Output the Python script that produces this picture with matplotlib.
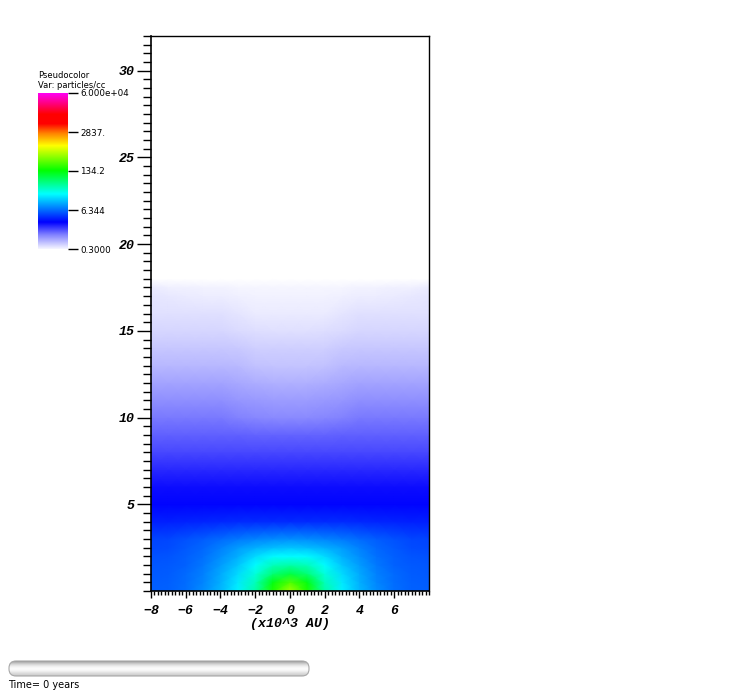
import numpy as np
import matplotlib
matplotlib.use('Agg')
import matplotlib.pyplot as plt
from matplotlib.colors import LinearSegmentedColormap, Normalize
from matplotlib.patches import FancyBboxPatch
from matplotlib.font_manager import FontProperties

# density field, log10(particles/cc) (x >= 0 half, mirrored)
x_pos = [0, 1, 2, 3, 4, 5, 6, 7, 8]
z_pos = [0, 0.5, 1, 1.5, 2, 2.5, 3, 4, 5, 6, 7, 8, 9, 10, 11, 12, 13, 14, 15,
         16, 17, 17.5, 18, 32]
log_rho = [
    [2.66, 2.23, 1.60, 1.28, 1.07, 0.91, 0.80, 0.75, 0.74],
    [2.39, 2.07, 1.54, 1.25, 1.04, 0.88, 0.79, 0.74, 0.72],
    [1.92, 1.76, 1.44, 1.20, 1.01, 0.86, 0.78, 0.72, 0.71],
    [1.60, 1.54, 1.33, 1.12, 0.96, 0.83, 0.75, 0.71, 0.70],
    [1.33, 1.31, 1.20, 1.04, 0.91, 0.80, 0.73, 0.69, 0.68],
    [1.12, 1.09, 1.04, 0.96, 0.86, 0.77, 0.71, 0.66, 0.65],
    [0.91, 0.90, 0.87, 0.83, 0.78, 0.72, 0.68, 0.64, 0.63],
    [0.54, 0.54, 0.54, 0.54, 0.53, 0.52, 0.51, 0.50, 0.50],
    [0.39, 0.39, 0.39, 0.39, 0.39, 0.39, 0.39, 0.39, 0.39],
    [0.34, 0.34, 0.34, 0.34, 0.34, 0.34, 0.34, 0.34, 0.34],
    [0.25, 0.25, 0.25, 0.25, 0.25, 0.25, 0.25, 0.25, 0.25],
    [0.14, 0.14, 0.14, 0.14, 0.14, 0.14, 0.14, 0.14, 0.14],
    [0.05, 0.05, 0.05, 0.06, 0.06, 0.06, 0.06, 0.06, 0.06],
    [-0.08, -0.08, -0.07, -0.05, -0.02, -0.02, -0.02, -0.02, -0.02],
    [-0.16, -0.16, -0.15, -0.13, -0.10, -0.10, -0.10, -0.10, -0.10],
    [-0.24, -0.24, -0.23, -0.21, -0.19, -0.19, -0.19, -0.19, -0.19],
    [-0.32, -0.32, -0.31, -0.28, -0.27, -0.27, -0.27, -0.27, -0.27],
    [-0.36, -0.36, -0.36, -0.34, -0.33, -0.33, -0.33, -0.33, -0.33],
    [-0.43, -0.43, -0.42, -0.41, -0.39, -0.39, -0.39, -0.39, -0.39],
    [-0.48, -0.48, -0.48, -0.46, -0.44, -0.44, -0.44, -0.44, -0.43],
    [-0.51, -0.51, -0.51, -0.50, -0.49, -0.49, -0.48, -0.47, -0.46],
    [-0.52, -0.52, -0.52, -0.52, -0.51, -0.51, -0.50, -0.50, -0.48],
    [-0.60, -0.60, -0.60, -0.60, -0.60, -0.60, -0.60, -0.60, -0.60],
    [-0.60, -0.60, -0.60, -0.60, -0.60, -0.60, -0.60, -0.60, -0.60],
]
rho_min = 0.3
rho_max = 6.0e4
legend_labels = ['0.3000', '6.344', '134.2', '2837.', '6.000e+04']

# colour table
stops = [(0.0, (0.96, 0.96, 1.0)), (0.09, (0.5, 0.5, 1.0)), (0.17, (0.0, 0.0, 1.0)),
         (0.26, (0.0, 0.5, 1.0)), (0.35, (0.0, 1.0, 1.0)), (0.5, (0.0, 1.0, 0.0)),
         (0.66, (1.0, 1.0, 0.0)), (0.74, (1.0, 0.5, 0.0)), (0.80, (1.0, 0.0, 0.0)),
         (0.86, (1.0, 0.0, 0.0)), (1.0, (1.0, 0.0, 1.0))]
cmap = LinearSegmentedColormap.from_list('visit', stops, N=512)
cmap.set_under('white')
norm = Normalize(np.log10(rho_min), np.log10(rho_max))

xs = np.array(x_pos, dtype=float)
full_x = np.concatenate([-xs[::-1], xs[1:]])
vals = np.array(log_rho)
full_vals = np.concatenate([vals[:, ::-1], vals[:, 1:]], axis=1)
X, Z = np.meshgrid(full_x, np.array(z_pos))

fig = plt.figure(figsize=(7.56, 6.96), dpi=100)
W, H = 756.0, 696.0

ax = fig.add_axes([151 / W, 1 - 591 / H, 278 / W, 555 / H])
ax.pcolormesh(X, Z, full_vals, cmap=cmap, norm=norm, shading='gouraud')
ax.set_xlim(-8, 8)
ax.set_ylim(0, 32)
ax.set_aspect('auto')
for s in ['top', 'right']:
    ax.spines[s].set_linewidth(1.0)
for s in ['left', 'bottom']:
    ax.spines[s].set_linewidth(1.2)

tick_font = FontProperties(family='Liberation Mono', weight='bold', style='italic', size=9.5)
ax.set_xticks([-8, -6, -4, -2, 0, 2, 4, 6])
ax.set_xticks(np.arange(-8, 8.01, 0.2), minor=True)
ax.set_yticks([5, 10, 15, 20, 25, 30])
ax.set_yticks(np.arange(0, 32.01, 0.5), minor=True)
ax.tick_params(axis='y', which='major', length=10, width=1, pad=1.5)
ax.tick_params(axis='y', which='minor', length=6, width=1)
ax.tick_params(axis='x', which='major', length=5, width=1, pad=5)
ax.tick_params(axis='x', which='minor', length=3, width=1)
ax.set_xticklabels(['−8', '−6', '−4', '−2', '0', '2', '4', '6'])
for lab in ax.get_xticklabels() + ax.get_yticklabels():
    lab.set_fontproperties(tick_font)
ax.set_xlabel('(x10^3 AU)', fontproperties=tick_font, labelpad=0.5)

# legend
fig.text(38 / W, 1 - 75 / H, 'Pseudocolor', fontsize=6, va='center')
fig.text(38 / W, 1 - 85 / H, 'Var: particles/cc', fontsize=6, va='center')
cax = fig.add_axes([38 / W, 1 - 249 / H, 30 / W, 156 / H])
grad = np.linspace(0, 1, 256).reshape(-1, 1)
cax.imshow(grad, cmap=cmap, vmin=0, vmax=1, aspect='auto', origin='lower',
           extent=[0, 1, 0, 1])
for s in cax.spines.values():
    s.set_visible(False)
cax.set_xticks([])
cax.yaxis.tick_right()
cax.set_yticks(np.linspace(0, 1, len(legend_labels)))
cax.set_yticklabels(legend_labels, fontsize=6.3)
cax.tick_params(axis='y', length=7, width=1, pad=2)
cax.set_ylim(0, 1)

# time slider (axes in pixel units)
sax = fig.add_axes([8 / W, 1 - 677 / H, 302 / W, 17 / H])
sax.set_axis_off()
sax.set_xlim(0, 302)
sax.set_ylim(0, 17)
shade = np.array([0.55, 0.66, 0.76, 0.84, 0.9, 0.95, 0.98, 0.99, 0.97, 0.93,
                  0.88, 0.84, 0.8, 0.74]).reshape(-1, 1)
im = sax.imshow(np.repeat(shade, 2, axis=1), cmap='gray', vmin=0, vmax=1,
                aspect='auto', extent=[0, 302, 0, 17], interpolation='bicubic')
box = FancyBboxPatch((1, 1), 300, 15, boxstyle='round,pad=0,rounding_size=7',
                     facecolor='none', edgecolor='#a8a8a8', linewidth=0.8)
sax.add_patch(box)
im.set_clip_path(box)
fig.text(8 / W, 1 - 685 / H, 'Time= 0 years', fontsize=7, va='center')

fig.savefig('out.png', dpi=100)
